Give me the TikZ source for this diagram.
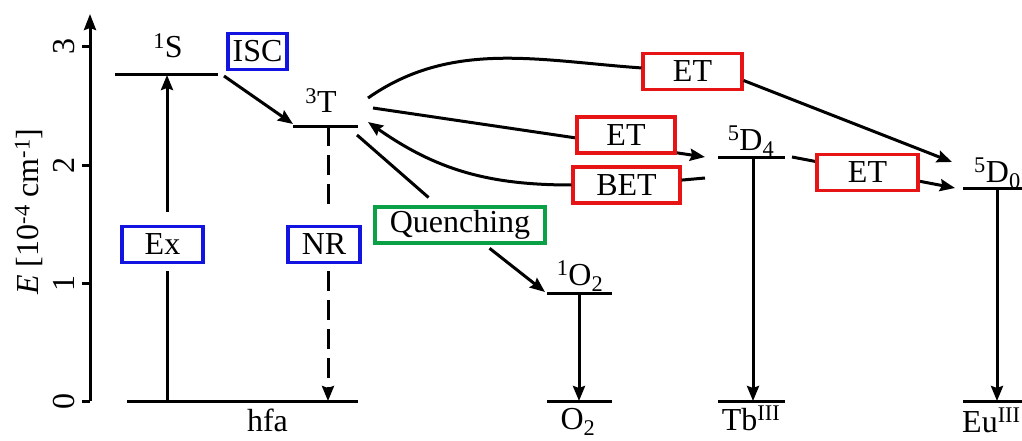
\documentclass[tikz,border=0pt]{standalone}
\usepackage{fontspec}
\setmainfont{Liberation Serif}
\usetikzlibrary{arrows.meta}
\definecolor{bxblue}{RGB}{20,20,225}
\definecolor{bxred}{RGB}{230,20,20}
\definecolor{bxgreen}{RGB}{10,160,70}
\tikzset{
  ln/.style={line width=3pt},
  arr/.style={ln,-{Stealth[length=15pt,width=12pt,inset=2pt]}},
  lvl/.style={line width=3pt},
  bx/.style={draw, line width=3.2pt, fill=white, inner sep=0pt, minimum height=36pt},
  bluebx/.style={bx, draw=bxblue},
  redbx/.style={bx, draw=bxred},
  greenbx/.style={bx, draw=bxgreen},
  lab/.style={anchor=base, inner sep=0pt},
  dsh/.style={dash pattern=on 20pt off 9pt}
}
\begin{document}
\begin{tikzpicture}[x=1pt,y=1pt,font=\fontsize{32}{37}\selectfont]
\clip (0,0) rectangle (1022,440);
% axis
\coordinate (ax0) at (90,39);
\coordinate (ax1) at (90,426);
\draw[ln,-{Stealth[length=16pt,width=12pt,inset=2pt]}] (ax0) -- (ax1);
\foreach \v/\yy in {0/39,1/157,2/275,3/393}{
  \draw[ln] (82,\yy) -- (90,\yy);
  \node[rotate=90, inner sep=0pt] (tick\v) at (64,\yy) {\v};
}
\node[rotate=90, inner sep=0pt] (axlabel) at (29,228.5) {\textit{E} [10\textsuperscript{-4} cm\textsuperscript{-1}]};

% levels
\draw[lvl] (115,365) -- (218,365);
\draw[lvl] (127,39) -- (358,39);
\draw[lvl] (293,314) -- (358,314);
\draw[lvl] (547,147) -- (612,147);
\draw[lvl] (547,39) -- (612,39);
\draw[lvl] (718,283) -- (785,283);
\draw[lvl] (718,39) -- (785,39);
\draw[lvl] (963,252) -- (1030,252);
\draw[lvl] (963,39) -- (1030,39);

% level labels
\node[lab] (lS) at (168,382) {\textsuperscript{1}S};
\node[lab] (lT) at (321,327) {\textsuperscript{3}T};
\node[lab] (lhfa) at (267.5,9) {hfa};
\node[lab] (lO2s) at (580,155) {\textsuperscript{1}O\textsubscript{2}};
\node[lab] (lO2) at (578,11) {O\textsubscript{2}};
\node[lab] (lD4) at (751,290) {\textsuperscript{5}D\textsubscript{4}};
\node[lab] (lTb) at (751,10) {Tb\textsuperscript{III}};
\node[lab, anchor=base west] (lD0) at (974,258) {\textsuperscript{5}D\textsubscript{0}};
\node[lab, anchor=base west] (lEu) at (962,8) {Eu\textsuperscript{III}};

% coordinates
\coordinate (exA) at (167,39);
\coordinate (exB) at (167,365);
\coordinate (nrA) at (328,314);
\coordinate (nrB) at (328,39);
\coordinate (iscA) at (224,364);
\coordinate (iscB) at (293,316);
\coordinate (qA) at (357,305);
\coordinate (qB) at (545,148);
\coordinate (o2A) at (579,147);
\coordinate (o2B) at (579,39);
\coordinate (tbA) at (753,283);
\coordinate (tbB) at (753,39);
\coordinate (euA) at (997,252);
\coordinate (euB) at (997,39);
\coordinate (etmA) at (373,332);
\coordinate (etmB) at (705,283);
\coordinate (betA) at (705,262);
\coordinate (betB) at (368,318);
\coordinate (ettA) at (368,342);
\coordinate (ettB) at (952,278);
\coordinate (etrA) at (792,283);
\coordinate (etrB) at (955,252);

% lines passing under boxes
\draw[arr] (etmA) -- (etmB);
\draw[arr] (etrA) -- (etrB);

% boxes
\node[bluebx, minimum width=59pt] (isc) at (257.5,388.5) {ISC};
\node[bluebx, minimum width=81pt] (ex) at (162.5,195.5) {Ex};
\node[bluebx, minimum width=72pt] (nr) at (324,195.5) {NR};
\node[greenbx, minimum width=170pt] (q) at (460,215) {Quenching};
\node[redbx, minimum width=99pt] (ett) at (692.5,368.5) {ET};
\node[redbx, minimum width=98pt] (etm) at (626,305) {ET};
\node[redbx, minimum width=107pt] (bet) at (626.5,255) {BET};
\node[redbx, minimum width=101pt] (etr) at (867.5,267.5) {ET};

% connectors
\draw[ln, shorten >=7pt] (exA) -- (exA |- ex.south);
\draw[arr, shorten <=13pt] (exA |- ex.north) -- (exB);
\draw[ln, dsh, shorten >=16pt] (nrA) -- (nrA |- nr.north);
\draw[arr, dsh, shorten <=7pt] (nrA |- nr.south) -- (nrB);
\draw[arr] (iscA) -- (iscB);
\draw[ln, shorten >=12pt] (qA) -- (q);
\draw[arr, shorten <=6pt] (q) -- (qB);
\draw[arr] (o2A) -- (o2B);
\draw[arr] (tbA) -- (tbB);
\draw[arr] (euA) -- (euB);
\draw[ln] (ettA) to[out=35, in=176, looseness=0.95] (ett);
\draw[arr] (ett.-10) -- (ettB);
\draw[ln] (betA) -- (bet);
\draw[arr] (bet.west) to[out=180, in=-35] (betB);
\end{tikzpicture}
\end{document}
